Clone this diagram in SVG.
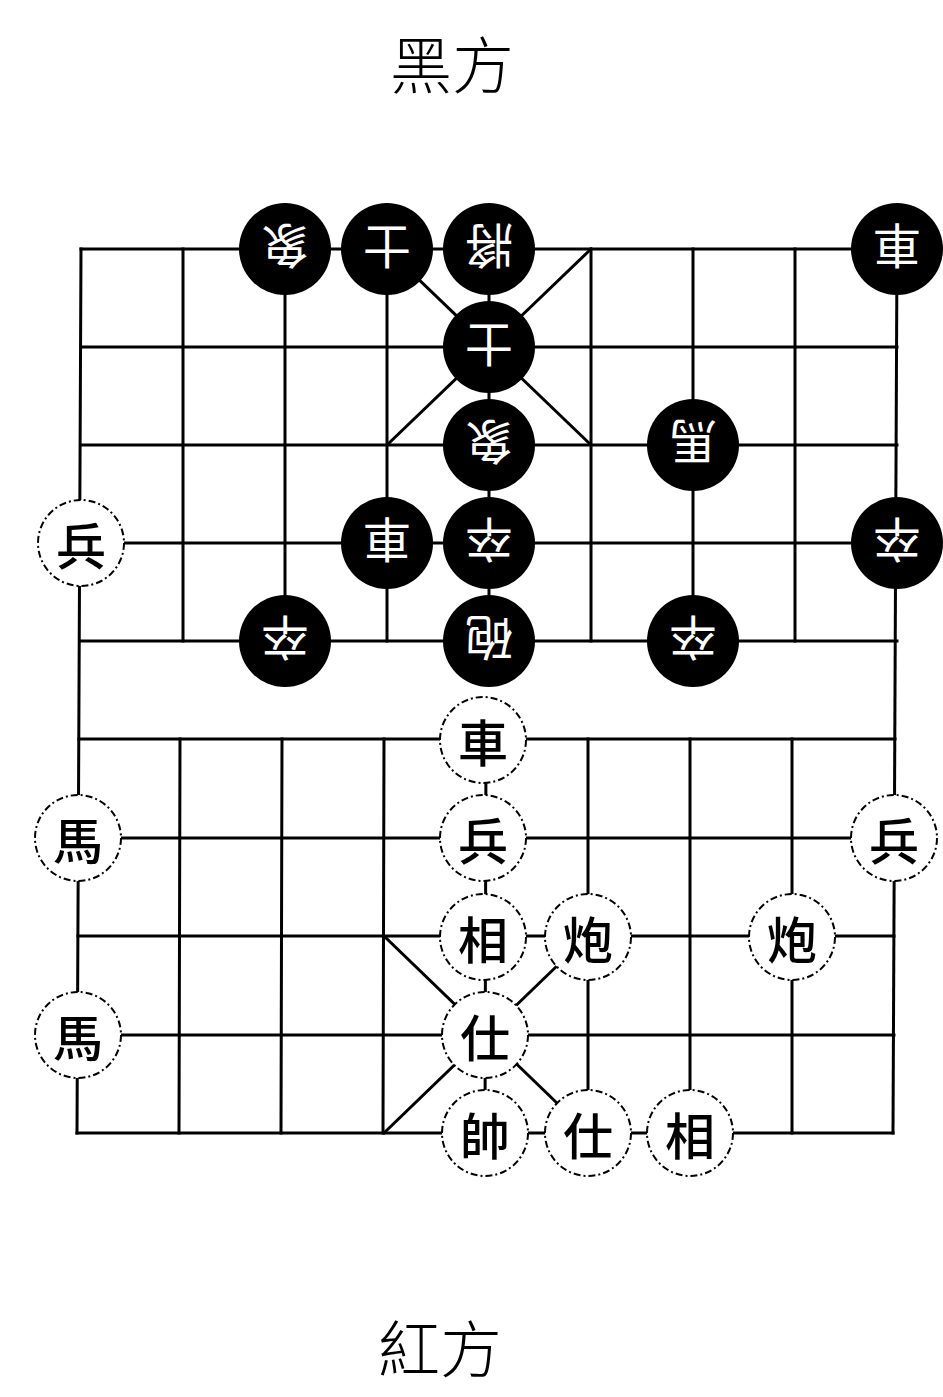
<svg xmlns="http://www.w3.org/2000/svg" width="943" height="1397" viewBox="0 0 943 1397">
<style>
.ln{stroke:#000;stroke-width:3;fill:none;stroke-linecap:square}
.bd{fill:#000}
.bt{fill:#fff;font-family:"Noto Sans CJK TC","Noto Sans CJK SC",sans-serif;font-size:48px;font-weight:400;text-anchor:middle;dominant-baseline:central}
.rd{fill:#fff;stroke:#000;stroke-width:2;stroke-dasharray:7 3 2 3}
.rt{fill:#000;font-family:"Noto Sans CJK TC","Noto Sans CJK SC",sans-serif;font-size:50px;font-weight:500;text-anchor:middle;dominant-baseline:central}
.lb{fill:#000;font-family:"Noto Sans CJK TC","Noto Sans CJK SC",sans-serif;font-size:62px;font-weight:300;text-anchor:middle;dominant-baseline:central}
</style>
<rect width="943" height="1397" fill="#fff"/>
<text class="lb" x="452" y="62">黑方</text>
<text class="lb" x="440" y="1346">紅方</text>
<g id="connectors">
<line class="ln" x1="81" y1="249" x2="897" y2="249"/>
<line class="ln" x1="81" y1="347" x2="897" y2="347"/>
<line class="ln" x1="81" y1="445" x2="897" y2="445"/>
<line class="ln" x1="81" y1="543" x2="897" y2="543"/>
<line class="ln" x1="81" y1="641" x2="897" y2="641"/>
<line class="ln" x1="79" y1="739" x2="895" y2="739"/>
<line class="ln" x1="78" y1="838" x2="894" y2="838"/>
<line class="ln" x1="78" y1="936" x2="894" y2="936"/>
<line class="ln" x1="78" y1="1035" x2="894" y2="1035"/>
<line class="ln" x1="77" y1="1133" x2="893" y2="1133"/>
<line class="ln" x1="81" y1="249" x2="77" y2="1133"/>
<line class="ln" x1="897" y1="249" x2="893" y2="1133"/>
<line class="ln" x1="183" y1="249" x2="183" y2="641"/>
<line class="ln" x1="285" y1="249" x2="285" y2="641"/>
<line class="ln" x1="387" y1="249" x2="387" y2="641"/>
<line class="ln" x1="489" y1="249" x2="489" y2="641"/>
<line class="ln" x1="591" y1="249" x2="591" y2="641"/>
<line class="ln" x1="693" y1="249" x2="693" y2="641"/>
<line class="ln" x1="795" y1="249" x2="795" y2="641"/>
<line class="ln" x1="180" y1="739" x2="179" y2="1133"/>
<line class="ln" x1="282" y1="739" x2="281" y2="1133"/>
<line class="ln" x1="384" y1="739" x2="383" y2="1133"/>
<line class="ln" x1="486" y1="739" x2="485" y2="1133"/>
<line class="ln" x1="588" y1="739" x2="588" y2="1133"/>
<line class="ln" x1="690" y1="739" x2="690" y2="1133"/>
<line class="ln" x1="792" y1="739" x2="792" y2="1133"/>
<line class="ln" x1="387" y1="249" x2="591" y2="445"/>
<line class="ln" x1="591" y1="249" x2="387" y2="445"/>
<line class="ln" x1="384" y1="936" x2="588" y2="1133"/>
<line class="ln" x1="588" y1="936" x2="384" y2="1133"/>
</g>
<g id="b-xiang1"><circle class="bd" cx="285" cy="249" r="46"/><text class="bt" x="285" y="249" transform="rotate(180 285 249)">象</text></g>
<g id="b-shi1"><circle class="bd" cx="387" cy="249" r="46"/><text class="bt" x="387" y="249" transform="rotate(180 387 249)">士</text></g>
<g id="b-jiang"><circle class="bd" cx="489" cy="249" r="46"/><text class="bt" x="489" y="249" transform="rotate(180 489 249)">將</text></g>
<g id="b-che1"><circle class="bd" cx="897" cy="249" r="46"/><text class="bt" x="897" y="249" transform="rotate(180 897 249)">車</text></g>
<g id="b-shi2"><circle class="bd" cx="489" cy="347" r="46"/><text class="bt" x="489" y="347" transform="rotate(180 489 347)">士</text></g>
<g id="b-xiang2"><circle class="bd" cx="489" cy="445" r="46"/><text class="bt" x="489" y="445" transform="rotate(180 489 445)">象</text></g>
<g id="b-ma"><circle class="bd" cx="693" cy="445" r="46"/><text class="bt" x="693" y="445" transform="rotate(180 693 445)">馬</text></g>
<g id="b-che2"><circle class="bd" cx="387" cy="543" r="46"/><text class="bt" x="387" y="543" transform="rotate(180 387 543)">車</text></g>
<g id="b-zu1"><circle class="bd" cx="489" cy="543" r="46"/><text class="bt" x="489" y="543" transform="rotate(180 489 543)">卒</text></g>
<g id="b-zu2"><circle class="bd" cx="897" cy="543" r="46"/><text class="bt" x="897" y="543" transform="rotate(180 897 543)">卒</text></g>
<g id="b-zu3"><circle class="bd" cx="285" cy="641" r="46"/><text class="bt" x="285" y="641" transform="rotate(180 285 641)">卒</text></g>
<g id="b-pao"><circle class="bd" cx="489" cy="641" r="46"/><text class="bt" x="489" y="641" transform="rotate(180 489 641)">砲</text></g>
<g id="b-zu4"><circle class="bd" cx="693" cy="641" r="46"/><text class="bt" x="693" y="641" transform="rotate(180 693 641)">卒</text></g>
<g id="r-bing1"><circle class="rd" cx="81" cy="543" r="43"/><text class="rt" x="81" y="543">兵</text></g>
<g id="r-che"><circle class="rd" cx="483" cy="740" r="43"/><text class="rt" x="483" y="740">車</text></g>
<g id="r-ma1"><circle class="rd" cx="78" cy="838" r="43"/><text class="rt" x="78" y="838">馬</text></g>
<g id="r-bing2"><circle class="rd" cx="483" cy="838" r="43"/><text class="rt" x="483" y="838">兵</text></g>
<g id="r-bing3"><circle class="rd" cx="894" cy="838" r="43"/><text class="rt" x="894" y="838">兵</text></g>
<g id="r-xiang1"><circle class="rd" cx="483" cy="937" r="43"/><text class="rt" x="483" y="937">相</text></g>
<g id="r-pao1"><circle class="rd" cx="588" cy="937" r="43"/><text class="rt" x="588" y="937">炮</text></g>
<g id="r-pao2"><circle class="rd" cx="792" cy="937" r="43"/><text class="rt" x="792" y="937">炮</text></g>
<g id="r-ma2"><circle class="rd" cx="78" cy="1035" r="43"/><text class="rt" x="78" y="1035">馬</text></g>
<g id="r-shi1"><circle class="rd" cx="485" cy="1035" r="43"/><text class="rt" x="485" y="1035">仕</text></g>
<g id="r-shuai"><circle class="rd" cx="485" cy="1133" r="43"/><text class="rt" x="485" y="1133">帥</text></g>
<g id="r-shi2"><circle class="rd" cx="588" cy="1133" r="43"/><text class="rt" x="588" y="1133">仕</text></g>
<g id="r-xiang2"><circle class="rd" cx="690" cy="1133" r="43"/><text class="rt" x="690" y="1133">相</text></g>
</svg>
